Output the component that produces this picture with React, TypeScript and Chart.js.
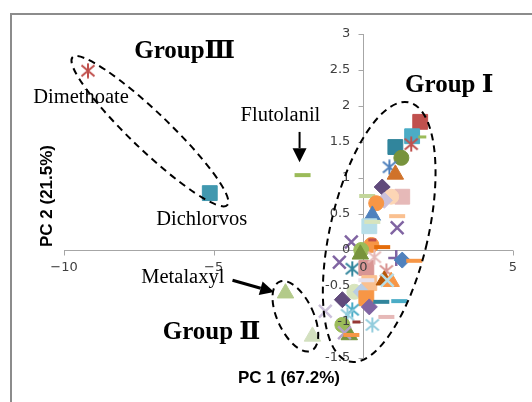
import React, { useEffect, useRef } from "react";
import { Chart, registerables } from "chart.js";

Chart.register(...registerables);

// ---- data (PC1 / PC2 scores) ----
const pc1 = [
  -9.2, -5.13, -2.03, -2.6, -1.7, -1.27,
  1.9, 1.63, 1.97, 1.6, 1.07, 1.27, 0.87, 1.07, 0.63,
  0.13, 1.3, 0.93, 0.7, 0.43, 0.3, 0.2, 0.3, 1.13, 1.13,
  -0.4, 0.27, 0.3, 0.63, -0.07, -0.8, -0.37, -0.1, 0.1, 0.37, 0.77,
  1.1, 1.3, 1.7, 0.2, 0.1, 0.7, 0.93, 0.8, -0.3, -0.07,
  -0.7, 0.1, 0.2, 0.6, 1.2, -0.37, -0.53, 0.77, -0.23, 0.3,
  -0.7, -0.47, -0.63, -0.4,
];
const pc2 = [
  2.49, 0.79, 1.04, -0.6, -1.2, -0.85,
  1.78, 1.58, 1.57, 1.47, 1.43, 1.28, 1.15, 1.05, 0.875,
  0.75, 0.74, 0.74, 0.69, 0.65, 0.48, 0.33, 0.39, 0.47, 0.31,
  0.11, 0.07, 0.14, 0.04, 0.0, -0.17, -0.26, -0.06, -0.25, -0.1, -0.29,
  -0.11, -0.14, -0.15, -0.46, -0.42, -0.42, -0.44, -0.42, -0.58, -0.58,
  -0.69, -0.67, -0.79, -0.72, -0.71, -0.83, -0.9, -0.93, -1.0, -1.04,
  -1.04, -1.18, -1.15, -1.18,
];
const xTickValues = [-10, -5, 0, 5];
const xTickLabels = ["\u221210", "\u22125", "0", "5"];
const yTickValues = [-1.5, -1, -0.5, 0, 0.5, 1, 1.5, 2, 2.5, 3];
const yTickLabels = ["-1.5", "-1", "-0.5", "0", "0.5", "1", "1.5", "2", "2.5", "3"];
const xTitle = "PC 1 (67.2%)";
const yTitle = "PC 2 (21.5%)";

// ---- marker styles (one per point) ----
const markerShape = [
  "asterisk", "rect", "line", "triangle", "triangle", "crossRot",
  "rect", "rect", "dashS", "asterisk", "rect", "circle", "asterisk", "triangle", "rectRot",
  "line", "rect", "circle", "rectRot", "circle", "triangle", "rect", "line", "line", "crossRot",
  "crossRot", "circle", "dashS", "line", "circle", "crossRot", "asterisk", "triangle", "rect", "asterisk", "asterisk",
  "cross", "rectRot", "line", "rect", "line", "triangle", "triangle", "crossRot", "circle", "rectRot",
  "rectRot", "rect", "rectRot", "line", "line", "asterisk", "asterisk", "line", "dashS", "asterisk",
  "circle", "triangle", "crossRot", "line",
];
const markerColor = [
  "#C0504D", "#4198AF", "#9BBB59", "#B3CA8A", "#D3E0BF", "#CCC1DA",
  "#C0504D", "#4BACC6", "#9BBB59", "#C0504D", "#31859C", "#77933C", "#4F81BD", "#D0722A", "#604A7B",
  "#C3D69B", "#E6B9B8", "#FCD5B5", "#CCC1DA", "#F79646", "#4F81BD", "#B7DEE8", "#D7E4BD", "#FAC090", "#8064A2",
  "#8064A2", "#F79646", "#C0504D", "#E46C0A", "#9BBB59", "#8064A2", "#31859C", "#77933C", "#D99694", "#E6B9B8", "#D99694",
  "#8064A2", "#4F81BD", "#F79646", "#FAC090", "#E6E0EC", "#B65708", "#F79646", "#B7DEE8", "#D7E4BD", "#B9CDE5",
  "#604A7B", "#F79646", "#8064A2", "#31859C", "#4BACC6", "#4BACC6", "#93CDDD", "#E6B9B8", "#953735", "#93CDDD",
  "#9BBB59", "#77933C", "#B3A2C7", "#F79646",
];

const shapeRadius: Record<string, number> = {
  rect: 10.5, circle: 7.5, rectRot: 8, triangle: 9.5, crossRot: 9, cross: 8, line: 8, dashS: 4, asterisk: 8,
};
const shapeBorder: Record<string, number> = {
  rect: 1, circle: 1, rectRot: 1, triangle: 1, crossRot: 2.5, cross: 2.5, line: 4, dashS: 3, asterisk: 2,
};

const SERIF = '"Liberation Serif", "DejaVu Serif", "Noto Sans CJK JP", serif';

function makeAsterisk(color: string): HTMLCanvasElement {
  const c = document.createElement("canvas");
  c.width = 16;
  c.height = 16;
  const g = c.getContext("2d")!;
  g.strokeStyle = color;
  g.lineWidth = 2;
  g.beginPath();
  g.moveTo(8, 0.5);
  g.lineTo(8, 15.5);
  g.moveTo(1.5, 2.5);
  g.lineTo(14.5, 13.5);
  g.moveTo(1.5, 13.5);
  g.lineTo(14.5, 2.5);
  g.stroke();
  return c;
}

type Label = { text: string; x: number; y: number; font: string };
const labels: Label[] = [
  { text: "Dimethoate", x: -9.43, y: 2.11, font: `20.5px ${SERIF}` },
  { text: "Dichlorvos", x: -5.4, y: 0.42, font: `20.5px ${SERIF}` },
  { text: "Flutolanil", x: -2.77, y: 1.86, font: `20.5px ${SERIF}` },
  { text: "Metalaxyl", x: -6.03, y: -0.39, font: `20.5px ${SERIF}` },
  { text: "Group\u2162", x: -5.97, y: 2.75, font: `bold 25px ${SERIF}` },
  { text: "Group \u2160", x: 2.87, y: 2.29, font: `bold 25px ${SERIF}` },
  { text: "Group \u2161", x: -5.07, y: -1.14, font: `bold 25px ${SERIF}` },
];
type Ell = { x: number; y: number; rx: number; ry: number; rot: number };
const ellipses: Ell[] = [
  { x: -7.13, y: 1.65, rx: 107, ry: 19, rot: 43.7 },
  { x: 0.53, y: 0.25, rx: 49, ry: 133, rot: 13 },
  { x: -2.27, y: -0.92, rx: 18, ry: 38, rot: -25 },
];
type Arrow = { x1: number; y1: number; x2: number; y2: number; w: number };
const arrows: Arrow[] = [
  { x1: -2.13, y1: 1.64, x2: -2.13, y2: 1.22, w: 2 },
  { x1: -4.37, y1: -0.42, x2: -2.98, y2: -0.585, w: 3 },
];

const axesPlugin = {
  id: "centerAxes",
  beforeDatasetsDraw(chart: any) {
    const { ctx, scales } = chart;
    const xs = scales.x, ys = scales.y;
    const x0 = Math.round(xs.getPixelForValue(0)) + 0.5;
    const y0 = Math.round(ys.getPixelForValue(0)) + 0.5;
    ctx.save();
    ctx.strokeStyle = "#A6A6A6";
    ctx.lineWidth = 1;
    ctx.beginPath();
    ctx.moveTo(xs.getPixelForValue(xTickValues[0]), y0);
    ctx.lineTo(xs.getPixelForValue(xTickValues[xTickValues.length - 1]), y0);
    ctx.moveTo(x0, ys.getPixelForValue(yTickValues[0]));
    ctx.lineTo(x0, ys.getPixelForValue(yTickValues[yTickValues.length - 1]));
    for (const v of xTickValues) {
      const px = Math.round(xs.getPixelForValue(v)) + 0.5;
      ctx.moveTo(px, y0);
      ctx.lineTo(px, y0 + 5);
    }
    for (const v of yTickValues) {
      const py = Math.round(ys.getPixelForValue(v)) + 0.5;
      ctx.moveTo(x0 - 5, py);
      ctx.lineTo(x0, py);
    }
    ctx.stroke();
    ctx.restore();
  },
  afterDatasetsDraw(chart: any) {
    const { ctx, scales } = chart;
    const xs = scales.x, ys = scales.y;
    const x0 = xs.getPixelForValue(0);
    const y0 = ys.getPixelForValue(0);
    ctx.save();
    ctx.fillStyle = "#404040";
    ctx.font = '13px "DejaVu Sans", sans-serif';
    ctx.textBaseline = "middle";
    ctx.textAlign = "center";
    xTickValues.forEach((v, i) => ctx.fillText(xTickLabels[i], xs.getPixelForValue(v), y0 + 18));
    ctx.textAlign = "right";
    yTickValues.forEach((v, i) => ctx.fillText(yTickLabels[i], x0 - 13, ys.getPixelForValue(v)));
    ctx.restore();
  },
  afterDraw(chart: any) {
    const { ctx, scales, chartArea } = chart;
    const xs = scales.x, ys = scales.y;
    ctx.save();
    // outer frame
    ctx.strokeStyle = "#8C8C8C";
    ctx.lineWidth = 2;
    ctx.strokeRect(11, 14, 560, 440);
    // axis titles
    ctx.fillStyle = "#000";
    ctx.font = 'bold 17px "Liberation Sans", sans-serif';
    ctx.textAlign = "center";
    ctx.textBaseline = "middle";
    ctx.fillText(xTitle, chartArea.left + 225, chartArea.bottom + 20);
    ctx.save();
    ctx.translate(chartArea.left - 17, chartArea.top + 162);
    ctx.rotate(-Math.PI / 2);
    ctx.fillText(yTitle, 0, 0);
    ctx.restore();
    // ellipses
    ctx.strokeStyle = "#000";
    ctx.lineWidth = 2;
    ctx.setLineDash([7, 5]);
    for (const e of ellipses) {
      ctx.beginPath();
      ctx.ellipse(xs.getPixelForValue(e.x), ys.getPixelForValue(e.y), e.rx, e.ry, (e.rot * Math.PI) / 180, 0, Math.PI * 2);
      ctx.stroke();
    }
    ctx.setLineDash([]);
    // arrows
    ctx.fillStyle = "#000";
    for (const a of arrows) {
      const x1 = xs.getPixelForValue(a.x1), y1 = ys.getPixelForValue(a.y1);
      const x2 = xs.getPixelForValue(a.x2), y2 = ys.getPixelForValue(a.y2);
      const ang = Math.atan2(y2 - y1, x2 - x1);
      const hl = 14, hw = 7;
      const bx = x2 - Math.cos(ang) * hl, by = y2 - Math.sin(ang) * hl;
      ctx.lineWidth = a.w;
      ctx.beginPath();
      ctx.moveTo(x1, y1);
      ctx.lineTo(bx, by);
      ctx.stroke();
      ctx.beginPath();
      ctx.moveTo(x2, y2);
      ctx.lineTo(bx - Math.sin(ang) * hw, by + Math.cos(ang) * hw);
      ctx.lineTo(bx + Math.sin(ang) * hw, by - Math.cos(ang) * hw);
      ctx.closePath();
      ctx.fill();
    }
    // text labels
    for (const l of labels) {
      ctx.font = l.font;
      ctx.fillText(l.text, xs.getPixelForValue(l.x), ys.getPixelForValue(l.y));
    }
    ctx.restore();
  },
};

export default function App() {
  const ref = useRef<HTMLCanvasElement>(null);
  useEffect(() => {
    const canvas = ref.current!;
    const styles = markerShape.map((s, i) =>
      s === "asterisk" ? makeAsterisk(markerColor[i]) : s === "dashS" ? "line" : s
    );
    const chart = new Chart(canvas, {
      type: "scatter",
      data: {
        datasets: [
          {
            data: pc1.map((x, i) => ({ x, y: pc2[i] })),
            pointStyle: styles as any,
            pointRadius: markerShape.map((s) => shapeRadius[s]),
            pointBorderWidth: markerShape.map((s) => shapeBorder[s]),
            pointBackgroundColor: markerColor,
            pointBorderColor: markerColor,
            showLine: false,
          },
        ],
      },
      options: {
        responsive: false,
        animation: false,
        events: [],
        layout: { padding: { left: 64, top: 34, right: 19, bottom: 44 } },
        plugins: { legend: { display: false }, tooltip: { enabled: false } },
        scales: {
          x: { type: "linear", min: xTickValues[0], max: xTickValues[xTickValues.length - 1], display: false },
          y: { type: "linear", min: yTickValues[0], max: yTickValues[yTickValues.length - 1], display: false },
        },
      },
      plugins: [axesPlugin],
    });
    return () => chart.destroy();
  }, []);
  return (
    <div style={{ position: "fixed", left: 0, top: 0, width: 532, height: 402, background: "#fff" }}>
      <canvas ref={ref} width={532} height={402} style={{ display: "block", width: 532, height: 402 }} />
    </div>
  );
}
